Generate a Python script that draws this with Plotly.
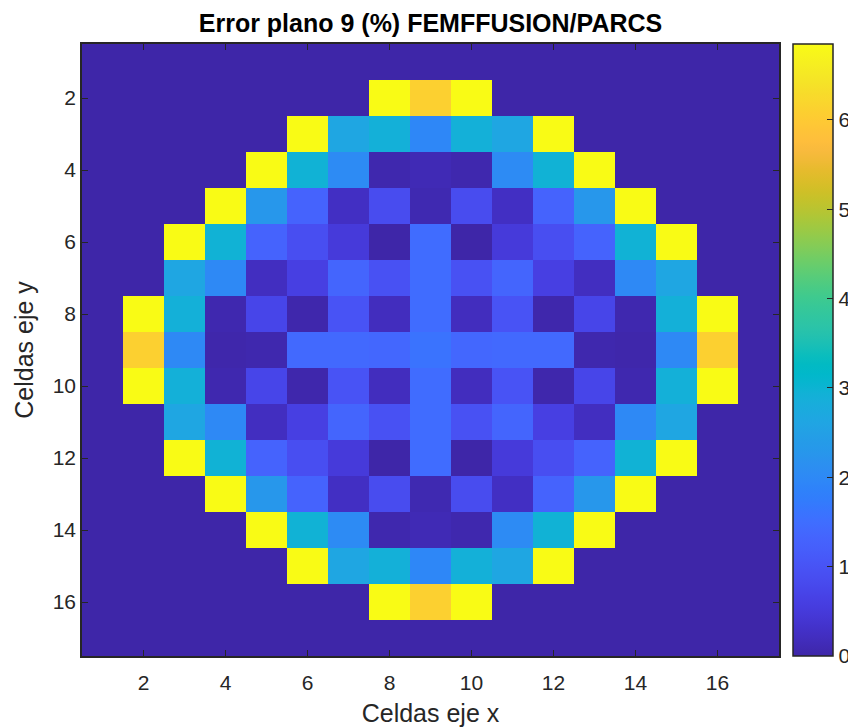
import plotly.graph_objects as go

Y = 6.85   # saturated yellow cells (max)
O = 6.1    # orange cells

cells_x = list(range(1, 18))
cells_y = list(range(1, 18))

row01 = [0] * 17
row02 = [0, 0, 0, 0, 0, 0, 0, Y, O, Y, 0, 0, 0, 0, 0, 0, 0]
row03 = [0, 0, 0, 0, 0, Y, 2.65, 2.9, 1.95, 2.9, 2.65, Y, 0, 0, 0, 0, 0]
row04 = [0, 0, 0, 0, Y, 2.95, 2.05, 0.05, 0.12, 0.05, 2.05, 2.95, Y, 0, 0, 0, 0]
row05 = [0, 0, 0, Y, 2.28, 1.3, 0.25, 0.85, 0.08, 0.85, 0.25, 1.3, 2.28, Y, 0, 0, 0]
row06 = [0, 0, Y, 2.95, 1.3, 0.9, 0.5, 0.0, 1.47, 0.0, 0.5, 0.9, 1.3, 2.95, Y, 0, 0]
row07 = [0, 0, 2.65, 2.0, 0.22, 0.6, 1.35, 0.95, 1.47, 0.95, 1.35, 0.6, 0.22, 2.0, 2.65, 0, 0]
row08 = [0, Y, 2.9, 0.06, 0.72, 0.04, 1.0, 0.2, 1.47, 0.2, 1.0, 0.04, 0.72, 0.06, 2.9, Y, 0]
row09 = [0, O, 2.0, 0.03, 0.05, 1.42, 1.42, 1.38, 1.6, 1.38, 1.42, 1.42, 0.05, 0.03, 2.0, O, 0]
row10 = [0, Y, 2.9, 0.06, 0.72, 0.04, 1.0, 0.2, 1.47, 0.2, 1.0, 0.04, 0.72, 0.06, 2.9, Y, 0]
row11 = [0, 0, 2.65, 2.0, 0.22, 0.6, 1.35, 0.95, 1.47, 0.95, 1.35, 0.6, 0.22, 2.0, 2.65, 0, 0]
row12 = [0, 0, Y, 2.95, 1.3, 0.9, 0.5, 0.0, 1.47, 0.0, 0.5, 0.9, 1.3, 2.95, Y, 0, 0]
row13 = [0, 0, 0, Y, 2.28, 1.3, 0.25, 0.85, 0.08, 0.85, 0.25, 1.3, 2.28, Y, 0, 0, 0]
row14 = [0, 0, 0, 0, Y, 2.95, 2.05, 0.05, 0.12, 0.05, 2.05, 2.95, Y, 0, 0, 0, 0]
row15 = [0, 0, 0, 0, 0, Y, 2.65, 2.9, 1.95, 2.9, 2.65, Y, 0, 0, 0, 0, 0]
row16 = [0, 0, 0, 0, 0, 0, 0, Y, O, Y, 0, 0, 0, 0, 0, 0, 0]
row17 = [0] * 17

z = [row01, row02, row03, row04, row05, row06, row07, row08, row09,
     row10, row11, row12, row13, row14, row15, row16, row17]

axis_ticks = [2, 4, 6, 8, 10, 12, 14, 16]
cbar_ticks = [0, 1, 2, 3, 4, 5, 6]

parula_rgb = [
    (0.2422, 0.1504, 0.6603), (0.2504, 0.1650, 0.7076), (0.2578, 0.1818, 0.7511),
    (0.2647, 0.1978, 0.7952), (0.2706, 0.2147, 0.8364), (0.2751, 0.2342, 0.8710),
    (0.2783, 0.2559, 0.8991), (0.2803, 0.2782, 0.9221), (0.2813, 0.3006, 0.9414),
    (0.2810, 0.3228, 0.9579), (0.2795, 0.3447, 0.9717), (0.2760, 0.3667, 0.9829),
    (0.2699, 0.3892, 0.9906), (0.2602, 0.4123, 0.9952), (0.2440, 0.4358, 0.9988),
    (0.2206, 0.4603, 0.9973), (0.1963, 0.4847, 0.9892), (0.1834, 0.5074, 0.9798),
    (0.1786, 0.5289, 0.9682), (0.1764, 0.5499, 0.9520), (0.1687, 0.5703, 0.9359),
    (0.1540, 0.5902, 0.9218), (0.1460, 0.6091, 0.9079), (0.1380, 0.6276, 0.8973),
    (0.1248, 0.6459, 0.8883), (0.1113, 0.6635, 0.8763), (0.0952, 0.6798, 0.8598),
    (0.0689, 0.6948, 0.8394), (0.0297, 0.7082, 0.8163), (0.0036, 0.7203, 0.7917),
    (0.0067, 0.7312, 0.7660), (0.0433, 0.7411, 0.7394), (0.0964, 0.7500, 0.7120),
    (0.1408, 0.7584, 0.6842), (0.1717, 0.7670, 0.6554), (0.1938, 0.7758, 0.6251),
    (0.2161, 0.7843, 0.5923), (0.2470, 0.7918, 0.5567), (0.2906, 0.7973, 0.5188),
    (0.3406, 0.8008, 0.4789), (0.3909, 0.8029, 0.4354), (0.4456, 0.8024, 0.3909),
    (0.5044, 0.7993, 0.3480), (0.5616, 0.7942, 0.3045), (0.6174, 0.7876, 0.2612),
    (0.6720, 0.7793, 0.2227), (0.7242, 0.7698, 0.1910), (0.7738, 0.7598, 0.1646),
    (0.8203, 0.7498, 0.1535), (0.8634, 0.7406, 0.1596), (0.9035, 0.7330, 0.1774),
    (0.9393, 0.7288, 0.2100), (0.9728, 0.7298, 0.2394), (0.9956, 0.7434, 0.2371),
    (0.9970, 0.7659, 0.2199), (0.9952, 0.7893, 0.2028), (0.9892, 0.8136, 0.1885),
    (0.9786, 0.8386, 0.1766), (0.9676, 0.8639, 0.1643), (0.9610, 0.8890, 0.1537),
    (0.9597, 0.9135, 0.1423), (0.9628, 0.9373, 0.1265), (0.9691, 0.9606, 0.1064),
    (0.9769, 0.9839, 0.0805),
]
n = len(parula_rgb)
parula = [[i / (n - 1), "rgb(%d,%d,%d)" % (round(r * 255), round(g * 255), round(b * 255))]
          for i, (r, g, b) in enumerate(parula_rgb)]

font_family = "Liberation Sans, Arial, Helvetica, sans-serif"
dark = "#262626"

fig = go.Figure(go.Heatmap(
    x=cells_x, y=cells_y, z=z,
    zmin=0, zmax=6.85,
    colorscale=parula,
    colorbar=dict(
        x=(793 - 82) / 697, xanchor="left", xref="paper",
        y=0.5, yanchor="middle", len=1.0, lenmode="fraction",
        thickness=40, thicknessmode="pixels",
        outlinecolor=dark, outlinewidth=1.5,
        tickvals=cbar_ticks, ticks="inside", ticklen=6, tickcolor=dark,
        tickfont=dict(family=font_family, size=21, color=dark),
        xpad=0, ypad=0,
    ),
    hoverongaps=False,
))

fig.update_layout(
    width=848, height=727,
    margin=dict(l=82, r=69, t=44, b=71, autoexpand=False),
    paper_bgcolor="white", plot_bgcolor="white",
    title=dict(text="<b>Error plano 9 (%) FEMFFUSION/PARCS</b>",
               x=(82 + 779) / 2 / 848, xref="container", xanchor="center",
               y=1 - 23 / 727, yanchor="middle",
               font=dict(family=font_family, size=25, color="black")),
    font=dict(family=font_family, color=dark),
)
fig.update_xaxes(
    range=[0.5, 17.5], tickvals=axis_ticks, ticks="inside", ticklen=6,
    tickcolor=dark, showline=True, linecolor=dark, linewidth=1.5, mirror="ticks",
    showgrid=False, zeroline=False, ticklabelstandoff=7,
    tickfont=dict(family=font_family, size=21, color=dark),
    title=dict(text="Celdas eje x", font=dict(family=font_family, size=25, color=dark), standoff=12),
)
fig.update_yaxes(
    range=[17.5, 0.5], tickvals=axis_ticks, ticks="inside", ticklen=6,
    tickcolor=dark, showline=True, linecolor=dark, linewidth=1.5, mirror="ticks",
    showgrid=False, zeroline=False,
    tickfont=dict(family=font_family, size=21, color=dark),
    title=dict(text="Celdas eje y", font=dict(family=font_family, size=25, color=dark), standoff=12),
)

fig.write_html("out.html")
